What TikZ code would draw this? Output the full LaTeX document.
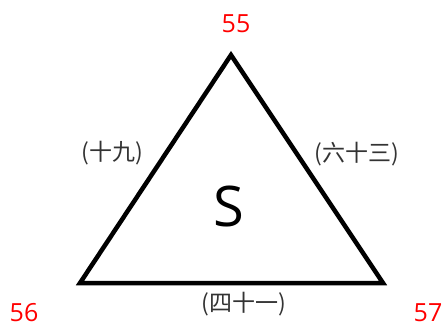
\documentclass[tikz,border=0pt]{standalone}
\usepackage{fontspec}
\setmainfont{Open Sans}
\newfontfamily\cjk{Noto Sans CJK SC}
\usepackage{tikz}

\begin{document}
\begin{tikzpicture}[x=1pt,y=-1pt,
	vertexlabel/.style={text=red, inner sep=0pt, font=\fontsize{25}{30}\selectfont},
	edgelabel/.style={text=black!80, inner sep=0pt, font=\cjk\fontsize{23}{26}\selectfont}]
	\useasboundingbox (0,0) rectangle (446,326);
	\coordinate (top) at (231,55);
	\coordinate (left) at (80,283);
	\coordinate (right) at (383,283);
	\draw[line width=4.5pt, line join=miter] (top) -- (left) -- (right) -- cycle;
	\node[vertexlabel] (n55) at (236,24) {55};
	\node[vertexlabel] (n56) at (24,313) {56};
	\node[vertexlabel] (n57) at (428,313) {57};
	\node[edgelabel] (e1) at (112,153) {(十九)};
	\node[edgelabel] (e2) at (357,154) {(六十三)};
	\node[edgelabel] (e3) at (244,304) {(四十一)};
	\node[font=\fontsize{56}{60}\selectfont] (s) at (229,206) {S};
\end{tikzpicture}
\end{document}
